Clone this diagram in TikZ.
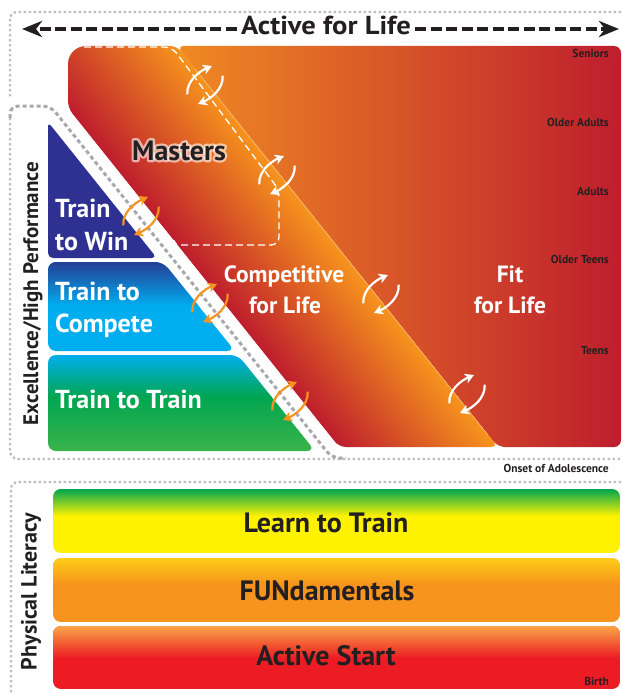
\documentclass[tikz,border=0pt]{standalone}
\usepackage{fontspec}
\setmainfont{PT Sans}
\newfontfamily\titlefont[FakeStretch=1.1]{PT Sans}
\usetikzlibrary{arrows.meta,calc}
\definecolor{crim}{HTML}{BE1E2D}
\definecolor{orng}{HTML}{F7941D}
\definecolor{fitleft}{RGB}{240,138,35}
\definecolor{navy}{HTML}{2E3192}
\definecolor{tcdark}{RGB}{36,62,150}
\definecolor{cyanb}{HTML}{00AEEF}
\definecolor{greenb}{HTML}{00A651}
\definecolor{greenl}{HTML}{3BB44A}
\definecolor{yell}{HTML}{FFF200}
\definecolor{yorng}{RGB}{252,205,22}
\definecolor{lorng}{RGB}{249,165,70}
\definecolor{redb}{HTML}{ED1C24}
\definecolor{lgrey}{HTML}{BCBEC0}
\definecolor{dgrey}{HTML}{A7A9AC}
\definecolor{txt}{HTML}{231F20}
\newcommand{\cycpair}[3]{%
  \begin{scope}[shift={(#1,#2)}]
    \draw[cyc,#3] (-17.7,9.3) .. controls (-18.5,-4) and (-6,-13.5) .. (7,-19);
    \draw[cyc,#3] (17.7,-9.3) .. controls (18.5,4) and (6,13.5) .. (-7,19);
  \end{scope}}
\newcommand{\glowword}[1]{%
  \rlap{\pgfsetstrokeopacity{0.6}\pgfsetfillopacity{0.6}\color{white}%
    \special{pdf:literal direct 2 Tr 4.5 w 1 j}#1\special{pdf:literal direct 0 Tr 1 w}}%
  \pgfsetstrokeopacity{1}\pgfsetfillopacity{1}#1}
\begin{document}
\begin{tikzpicture}[x=1pt,y=-1pt,
  framedot/.style={draw=lgrey,line width=2.3pt,dash pattern=on 2.4pt off 2.6pt},
  framedash/.style={draw=dgrey,line width=3pt,dash pattern=on 4pt off 3pt},
  agelbl/.style={font=\bfseries\fontsize{11.5}{12}\selectfont,text=txt,anchor=base east,inner sep=0pt},
  stagew/.style={font=\bfseries\fontsize{26}{28}\selectfont,text=white,inner sep=0pt},
  lifew/.style={font=\bfseries\fontsize{23.5}{25}\selectfont,text=white,inner sep=0pt,anchor=base},
  mastersty/.style={font=\bfseries\fontsize{28}{30}\selectfont,inner sep=0pt,anchor=base},
  barlbl/.style={font=\bfseries\fontsize{28}{30}\selectfont,text=txt,inner sep=0pt,anchor=base},
  sidelbl/.style={font=\bfseries\fontsize{21}{23}\selectfont,text=txt,inner sep=0pt,anchor=base,rotate=90},
  cyc/.style={line width=2.2pt,-{Stealth[length=9pt,width=10pt,inset=2.5pt]}},
  lifearrow/.style={draw=txt,line width=3.5pt,dash pattern=on 11pt off 4.5pt,-{Stealth[length=20pt,width=16pt,inset=6pt]}},
  mdash/.style={draw=white,line width=1.3pt,dash pattern=on 7pt off 4pt}
]
\useasboundingbox (0,0) rectangle (621,693);
\fill[white] (0,0) rectangle (621,693);

% ---------- frames ----------
\draw[framedot,rounded corners=7] (621,12) -- (10,12) -- (10,98);
\draw[framedot,rounded corners=8] (10,118) -- (10,459) -- (621,459);
\draw[framedash,rounded corners=8] (10,118) -- (10,106) -- (50.5,106) -- (332,458) -- (346,458);
\draw[framedot,rounded corners=7] (621,482) -- (11,482) -- (11,693);

% ---------- Fit for Life region ----------
\shade[left color=fitleft,right color=crim,rounded corners=7]
  (400,46) -- (621,46) -- (621,447) -- (498,447) -- (177,46) -- cycle;

% ---------- Competitive for Life band ----------
\begin{scope}
  \clip[rounded corners=7] (120,46) -- (177,46) -- (498,447) -- (339,447)
     -- (68,108) [rounded corners=18] -- (68,46) [rounded corners=7] -- cycle;
  \shade[top color=orng,bottom color=crim,
         transform canvas={rotate around={-51.34:(301,300)}}]
     (-149,238) rectangle (751,362);
\end{scope}
\draw[white,opacity=0.35,line width=0.6pt] (195,69) -- (488,435);

% Masters dashed outline
\draw[mdash,rounded corners=8] (84,47) -- (172,47) -- (279,190) -- (279,245) -- (184,245)
   .. controls (177,245) .. (172,238);

% ---------- Excellence stages ----------
\fill[navy,rounded corners=5] (48,258) -- (48,122) -- (156.8,258) -- cycle;
\begin{scope}
  \clip[rounded corners=8] (100,262) -- (163,262) -- (235,351) -- (48,351) -- (48,262) -- cycle;
  \fill[cyanb] (40,262) rectangle (245,352);
  \shade[top color=tcdark,bottom color=cyanb] (40,262) rectangle (245,306);
\end{scope}
\begin{scope}
  \clip[rounded corners=8] (100,355) -- (238,355) -- (315,451) -- (48,451) -- (48,355) -- cycle;
  \shade[top color=cyanb,bottom color=greenb] (40,355) rectangle (320,396);
  \shade[top color=greenb,bottom color=greenl] (40,396) rectangle (320,452);
\end{scope}

% ---------- Physical literacy bars ----------
\begin{scope}
  \clip[rounded corners=8] (53,489) rectangle (620,553);
  \fill[yell] (53,489) rectangle (620,553);
  \shade[top color=greenb,bottom color=yell] (53,489) rectangle (620,516);
\end{scope}
\begin{scope}
  \clip[rounded corners=8] (53,558) rectangle (620,622);
  \fill[orng] (53,558) rectangle (620,622);
  \shade[top color=yorng,bottom color=orng] (53,558) rectangle (620,584);
\end{scope}
\begin{scope}
  \clip[rounded corners=8] (53,626) rectangle (620,689);
  \fill[redb] (53,626) rectangle (620,689);
  \shade[top color=lorng,bottom color=redb] (53,626) rectangle (620,658);
\end{scope}

% ---------- cycle arrows ----------
\cycpair{205}{85}{white}
\cycpair{277}{175}{white}
\cycpair{381}{294}{white}
\cycpair{467}{394}{white}
\cycpair{141}{216}{orng}
\cycpair{210}{303}{orng}
\cycpair{290}{401}{orng}

% ---------- title ----------
\node[font=\titlefont\bfseries\fontsize{26}{28}\selectfont,text=txt,inner sep=0pt,anchor=base] (title) at (326,35) {Active for Life};
\coordinate (tl) at (22,29);
\coordinate (tr) at (619,29);
\draw[lifearrow] ($(title.west |- tl)+(-4,0)$) -- (tl);
\draw[lifearrow] ($(title.east |- tr)+(4,0)$) -- (tr);

% ---------- stage texts ----------
\node[mastersty,text=txt] (masters) at (179,160) {\glowword{Masters}};

\node[stagew,anchor=base west] (win1) at (55,217) {Train};
\node[stagew,anchor=base west] (win2) at (55,250) {to Win};
\node[stagew,anchor=base west] (comp1) at (55,300) {Train to};
\node[stagew,anchor=base west] (comp2) at (55,332) {Compete};
\node[stagew,anchor=base west] (ttt) at (55,408) {Train to Train};
\node[lifew] (cfl1) at (284,282) {Competitive};
\node[lifew] (cfl2) at (285,313) {for Life};
\node[lifew] (ffl1) at (510,282) {Fit};
\node[lifew] (ffl2) at (510,313) {for Life};

\node[barlbl] (ltt) at (326,532) {Learn to Train};
\node[barlbl] (fun) at (327,600) {FUNdamentals};
\node[barlbl] (ast) at (326,665) {Active Start};

\node[sidelbl] (exc) at (38,293.5) {Excellence/High Performance};
\node[sidelbl,font=\bfseries\fontsize{22}{24}\selectfont] (phys) at (36.5,591.5) {Physical Literacy};

\node[agelbl] (sen) at (609,57) {Seniors};
\node[agelbl] (oad) at (609,126) {Older Adults};
\node[agelbl] (adu) at (609,195) {Adults};
\node[agelbl] (ote) at (609,263) {Older Teens};
\node[agelbl] (tee) at (609,354) {Teens};
\node[agelbl] (ons) at (609,472) {Onset of Adolescence};
\node[agelbl] (bir) at (609,685) {Birth};
\end{tikzpicture}
\end{document}
